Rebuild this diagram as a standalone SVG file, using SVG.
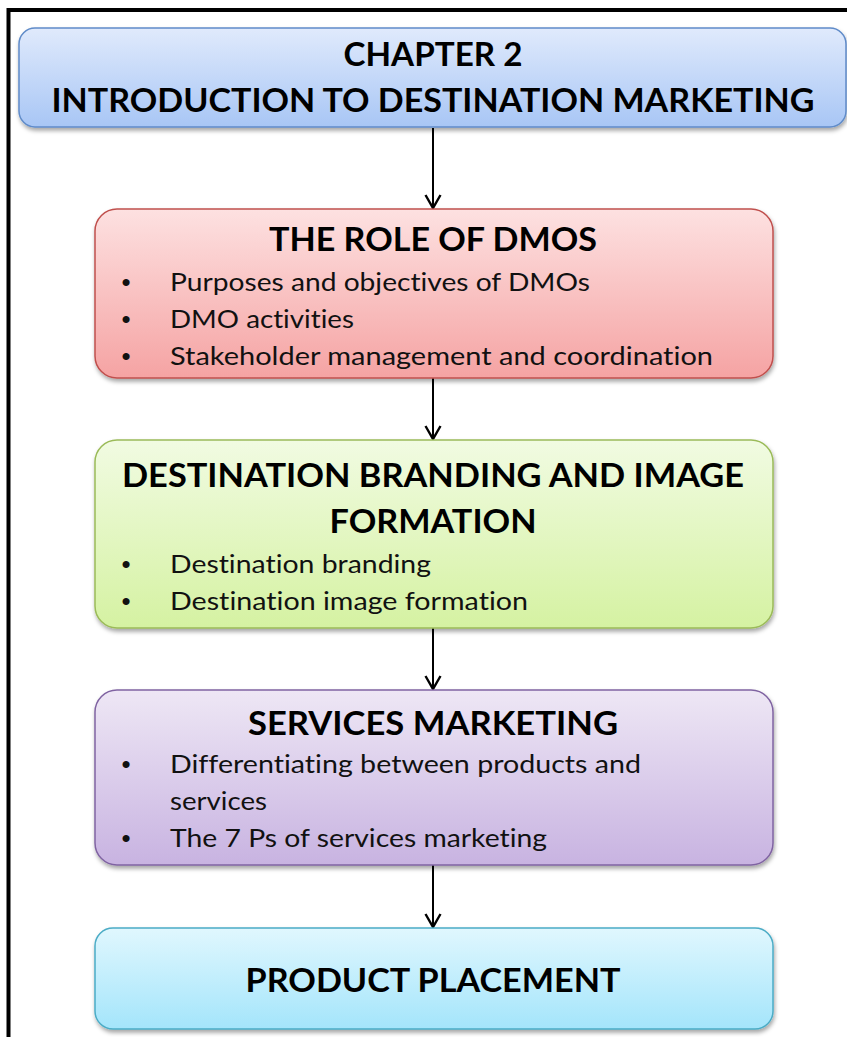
<svg xmlns="http://www.w3.org/2000/svg" width="847" height="1037" viewBox="0 0 847 1037">
<style>
text{font-variant-ligatures:none;font-feature-settings:"liga" 0,"clig" 0}
.h{font-family:Lato,"Open Sans","Liberation Sans",sans-serif;font-weight:700;font-size:33px;fill:#000;text-anchor:middle}
.b{font-family:Lato,"Open Sans","Liberation Sans",sans-serif;font-size:25px;fill:#111}
.dot{font-family:"Liberation Sans",sans-serif;font-size:26px;fill:#111;text-anchor:middle}
.conn line{stroke:#000;stroke-width:2}
</style>
<defs>
<filter id="sh" x="-5%" y="-10%" width="110%" height="130%">
<feDropShadow dx="1" dy="3" stdDeviation="2" flood-color="#000" flood-opacity="0.35"/>
</filter>
<linearGradient id="gB" x1="0" y1="0" x2="0" y2="1"><stop offset="0" stop-color="#e0eafc"/><stop offset="1" stop-color="#a8c6f5"/></linearGradient>
<linearGradient id="gR" x1="0" y1="0" x2="0" y2="1"><stop offset="0" stop-color="#fde1e1"/><stop offset="1" stop-color="#f5a3a3"/></linearGradient>
<linearGradient id="gG" x1="0" y1="0" x2="0" y2="1"><stop offset="0" stop-color="#f1fbe2"/><stop offset="1" stop-color="#d5f2a2"/></linearGradient>
<linearGradient id="gP" x1="0" y1="0" x2="0" y2="1"><stop offset="0" stop-color="#eee7f5"/><stop offset="1" stop-color="#c8b3e1"/></linearGradient>
<linearGradient id="gC" x1="0" y1="0" x2="0" y2="1"><stop offset="0" stop-color="#e0f7fe"/><stop offset="1" stop-color="#a4e5fb"/></linearGradient>
<marker id="arr" markerWidth="18" markerHeight="18" refX="15" refY="9" orient="auto" markerUnits="userSpaceOnUse">
<path d="M2,1.5 L15,9 L2,16.5" fill="none" stroke="#000" stroke-width="2.4"/>
</marker>
</defs>
<rect width="847" height="1037" fill="#fff"/>
<rect x="8.5" y="10" width="900" height="1100" fill="none" stroke="#000" stroke-width="4"/>

<g class="conn">
<line x1="433" y1="128" x2="433" y2="208" marker-end="url(#arr)"/>
<line x1="433" y1="378" x2="433" y2="439" marker-end="url(#arr)"/>
<line x1="433" y1="628" x2="433" y2="689" marker-end="url(#arr)"/>
<line x1="433" y1="865" x2="433" y2="927" marker-end="url(#arr)"/>
</g>

<g id="title">
<rect x="19" y="28" width="827" height="99" rx="16" fill="url(#gB)" stroke="#5f8bc9" stroke-width="1.5" filter="url(#sh)"/>
<text class="h" x="433" y="66" textLength="179" lengthAdjust="spacingAndGlyphs">CHAPTER 2</text>
<text class="h" x="433" y="112" textLength="763" lengthAdjust="spacingAndGlyphs">INTRODUCTION TO DESTINATION MARKETING</text>
</g>

<g id="dmos">
<rect x="95" y="209" width="678" height="169" rx="22" fill="url(#gR)" stroke="#c0504d" stroke-width="1.5" filter="url(#sh)"/>
<text class="h" x="433" y="251" textLength="328" lengthAdjust="spacingAndGlyphs">THE ROLE OF DMOS</text>
<text class="dot" x="126" y="291">•</text>
<text class="b" x="170" y="291" textLength="420" lengthAdjust="spacingAndGlyphs">Purposes and objectives of DMOs</text>
<text class="dot" x="126" y="328">•</text>
<text class="b" x="170" y="328" textLength="184" lengthAdjust="spacingAndGlyphs">DMO activities</text>
<text class="dot" x="126" y="365">•</text>
<text class="b" x="170" y="365" textLength="543" lengthAdjust="spacingAndGlyphs">Stakeholder management and coordination</text>
</g>

<g id="branding">
<rect x="95" y="440" width="678" height="188" rx="22" fill="url(#gG)" stroke="#9bbb59" stroke-width="1.5" filter="url(#sh)"/>
<text class="h" x="433" y="487" textLength="622" lengthAdjust="spacingAndGlyphs">DESTINATION BRANDING AND IMAGE</text>
<text class="h" x="433" y="533" textLength="207" lengthAdjust="spacingAndGlyphs">FORMATION</text>
<text class="dot" x="126" y="573">•</text>
<text class="b" x="170" y="573" textLength="261" lengthAdjust="spacingAndGlyphs">Destination branding</text>
<text class="dot" x="126" y="610">•</text>
<text class="b" x="170" y="610" textLength="358" lengthAdjust="spacingAndGlyphs">Destination image formation</text>
</g>

<g id="services">
<rect x="95" y="690" width="678" height="175" rx="22" fill="url(#gP)" stroke="#8064a2" stroke-width="1.5" filter="url(#sh)"/>
<text class="h" x="433" y="735" textLength="370" lengthAdjust="spacingAndGlyphs">SERVICES MARKETING</text>
<text class="dot" x="126" y="773">•</text>
<text class="b" x="170" y="773" textLength="471" lengthAdjust="spacingAndGlyphs">Differentiating between products and</text>
<text class="b" x="170" y="810" textLength="97" lengthAdjust="spacingAndGlyphs">services</text>
<text class="dot" x="126" y="847">•</text>
<text class="b" x="170" y="847" textLength="377" lengthAdjust="spacingAndGlyphs">The 7 Ps of services marketing</text>
</g>

<g id="placement">
<rect x="95" y="928" width="678" height="101" rx="18" fill="url(#gC)" stroke="#4bacc6" stroke-width="1.5" filter="url(#sh)"/>
<text class="h" x="433" y="992" textLength="375" lengthAdjust="spacingAndGlyphs">PRODUCT PLACEMENT</text>
</g>
</svg>
